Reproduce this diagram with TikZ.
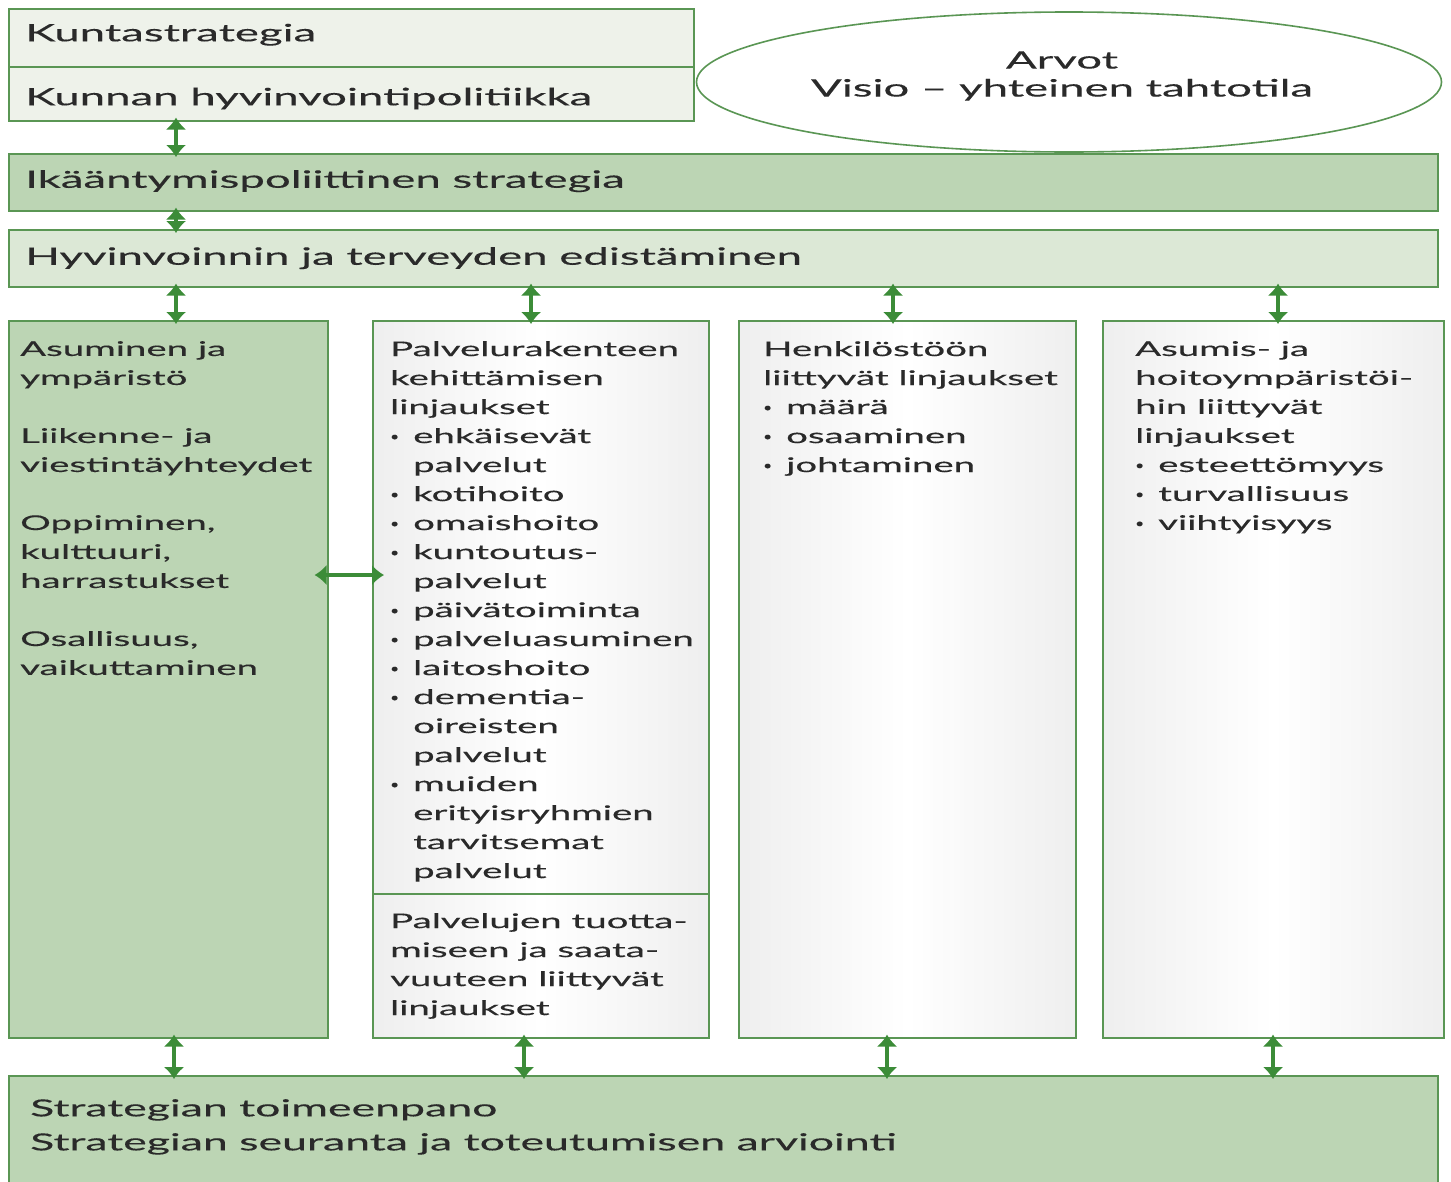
\documentclass[tikz,border=0pt]{standalone}
\usepackage{fontspec}
\setmainfont{Lato}[FakeStretch=1.9, FakeBold=0.3]
\usetikzlibrary{positioning,arrows.meta,shapes.geometric}

\definecolor{edgegreen}{HTML}{5A9654}
\definecolor{arrowgreen}{HTML}{3C8C38}
\definecolor{midgreen}{HTML}{BCD5B4}
\definecolor{lightgreen}{HTML}{DCE8D6}
\definecolor{palegreen}{HTML}{EEF2EA}
\definecolor{textgrey}{HTML}{2A2A2A}

\newlength{\bulw}
\setlength{\bulw}{23pt}
\newcommand{\itm}[1]{\makebox[\bulw][l]{\raisebox{0.12em}{\scalebox{0.4}[0.6]{\textbullet}}}#1}
\newcommand{\cnt}[1]{\hspace*{\bulw}#1}

\tikzset{
  box/.style={draw=edgegreen, line width=1.6pt, anchor=north west, inner sep=0pt},
  shadebox/.style={box, left color=gray!13, right color=gray!13, middle color=white},
  bigtext/.style={font=\fontsize{24}{28}\selectfont, text=textgrey, inner sep=0pt,
    text height=0.72em, text depth=0.22em},
  coltext/.style={font=\fontsize{20.2}{29}\selectfont, text=textgrey, align=left, inner sep=0pt},
  biarrow/.style={arrowgreen, line width=4.5pt, shorten <=-4pt, shorten >=-4pt,
    {Latex[length=12pt,width=21pt]}-{Latex[length=12pt,width=21pt]}},
}

\begin{document}
\begin{tikzpicture}[x=1pt, y=-1pt]
  \useasboundingbox[fill=white] (0,0) rectangle (1451,1181);

  % top boxes
  \node[box, fill=palegreen, minimum width=685, minimum height=58] (kunta) at (8,8) {};
  \node[box, fill=palegreen, minimum width=685, minimum height=54] (pol) at (8,66) {};
  \node[draw=edgegreen, line width=1.6pt, fill=white, ellipse, minimum width=745, minimum height=140] (arvot) at (1069,82) {};
  \node[box, fill=midgreen, minimum width=1429, minimum height=57] (ika) at (8,153) {};
  \node[box, fill=lightgreen, minimum width=1429, minimum height=57] (hyv) at (8,229) {};

  \node[bigtext, right=17pt of kunta.west, yshift=-1pt] (tkunta) {Kuntastrategia};
  \node[bigtext, right=17pt of pol.west, yshift=-9pt] (tpol) {Kunnan hyvinvointipolitiikka};
  \node[bigtext, align=center, text height=, text depth=] (tarvot)
    at ([xshift=-7pt, yshift=6pt]arvot.center) {Arvot\\Visio -- yhteinen tahtotila};
  \node[bigtext, right=17pt of ika.west, yshift=-3pt] (tika) {Ikääntymispoliittinen strategia};
  \node[bigtext, right=17pt of hyv.west, yshift=-4pt] (thyv) {Hyvinvoinnin ja terveyden edistäminen};

  % columns
  \node[box, fill=midgreen, minimum width=319, minimum height=717] (col1) at (8,320) {};
  \node[shadebox, minimum width=336, minimum height=573] (col2) at (372,320) {};
  \node[shadebox, minimum width=336, minimum height=144] (col2b) at (372,893) {};
  \node[shadebox, minimum width=337, minimum height=717] (col3) at (738,320) {};
  \node[shadebox, minimum width=341, minimum height=717] (col4) at (1102,320) {};

  \node[coltext, below right=21pt and 12pt of col1.north west] (t1) {%
    Asuminen ja\\ympäristö\\[29pt]
    Liikenne- ja\\viestintäyhteydet\\[29pt]
    Oppiminen,\\kulttuuri,\\harrastukset\\[29pt]
    Osallisuus,\\vaikuttaminen};
  \node[coltext, below right=21pt and 18pt of col2.north west] (t2) {%
    Palvelurakenteen\\kehittämisen\\linjaukset\\
    \itm{ehkäisevät}\\\cnt{palvelut}\\
    \itm{kotihoito}\\
    \itm{omaishoito}\\
    \itm{kuntoutus-}\\\cnt{palvelut}\\
    \itm{päivätoiminta}\\
    \itm{palveluasuminen}\\
    \itm{laitoshoito}\\
    \itm{dementia-}\\\cnt{oireisten}\\\cnt{palvelut}\\
    \itm{muiden}\\\cnt{erityisryhmien}\\\cnt{tarvitsemat}\\\cnt{palvelut}};
  \node[coltext, below right=20pt and 18pt of col2b.north west] (t2b) {%
    Palvelujen tuotta-\\miseen ja saata-\\vuuteen liittyvät\\linjaukset};
  \node[coltext, below right=21pt and 25pt of col3.north west] (t3) {%
    Henkilöstöön\\liittyvät linjaukset\\
    \itm{määrä}\\\itm{osaaminen}\\\itm{johtaminen}};
  \node[coltext, below right=21pt and 33pt of col4.north west] (t4) {%
    Asumis- ja\\hoitoympäristöi-\\hin liittyvät\\linjaukset\\
    \itm{esteettömyys}\\\itm{turvallisuus}\\\itm{viihtyisyys}};

  % bottom box
  \node[box, fill=midgreen, minimum width=1429, minimum height=112] (toim) at (8,1075) {};
  \node[coltext, font=\fontsize{23.5}{34}\selectfont, below right=24pt and 22pt of toim.north west] (ttoim) {%
    Strategian toimeenpano\\Strategian seuranta ja toteutumisen arviointi};

  % arrows
  \coordinate (up1) at (176,0);
  \coordinate (up2) at (531,0);
  \coordinate (up3) at (893,0);
  \coordinate (up4) at (1278,0);
  \coordinate (dn1) at (174,0);
  \coordinate (dn2) at (524,0);
  \coordinate (dn3) at (887,0);
  \coordinate (dn4) at (1273,0);
  \coordinate (hmid) at (0,575);

  \draw[biarrow] (up1 |- pol.south) -- (up1 |- ika.north);
  \draw[biarrow] (up1 |- ika.south) -- (up1 |- hyv.north);
  \draw[biarrow] (up1 |- hyv.south) -- (up1 |- col1.north);
  \draw[biarrow] (up2 |- hyv.south) -- (up2 |- col2.north);
  \draw[biarrow] (up3 |- hyv.south) -- (up3 |- col3.north);
  \draw[biarrow] (up4 |- hyv.south) -- (up4 |- col4.north);
  \draw[biarrow, line width=3.5pt, shorten <=-14pt, shorten >=-12pt] (col1.east |- hmid) -- (col2.west |- hmid);
  \draw[biarrow] (dn1 |- col1.south) -- (dn1 |- toim.north);
  \draw[biarrow] (dn2 |- col2b.south) -- (dn2 |- toim.north);
  \draw[biarrow] (dn3 |- col3.south) -- (dn3 |- toim.north);
  \draw[biarrow] (dn4 |- col4.south) -- (dn4 |- toim.north);
\end{tikzpicture}
\end{document}
